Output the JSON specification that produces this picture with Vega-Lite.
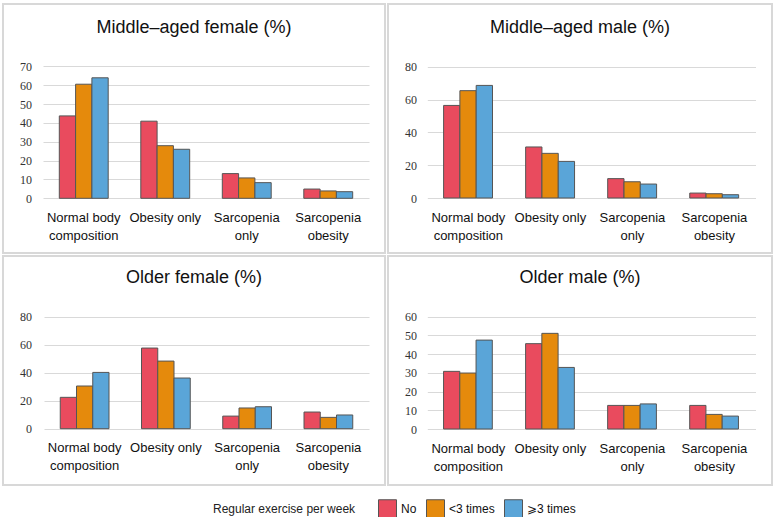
{
  "$schema": "https://vega.github.io/schema/vega-lite/v6.json",
  "background": "white",
  "padding": {"left": 2, "top": 3, "right": 0, "bottom": 0},
  "datasets": {
    "d": [
      {"panel": "MF", "cat": "Normal body composition", "grp": "No", "v": 43.7},
      {"panel": "MF", "cat": "Normal body composition", "grp": "<3 times", "v": 60.5},
      {"panel": "MF", "cat": "Normal body composition", "grp": "⩾3 times", "v": 63.9},
      {"panel": "MF", "cat": "Obesity only", "grp": "No", "v": 40.9},
      {"panel": "MF", "cat": "Obesity only", "grp": "<3 times", "v": 27.9},
      {"panel": "MF", "cat": "Obesity only", "grp": "⩾3 times", "v": 26.0},
      {"panel": "MF", "cat": "Sarcopenia only", "grp": "No", "v": 13.1},
      {"panel": "MF", "cat": "Sarcopenia only", "grp": "<3 times", "v": 10.8},
      {"panel": "MF", "cat": "Sarcopenia only", "grp": "⩾3 times", "v": 8.3},
      {"panel": "MF", "cat": "Sarcopenia obesity", "grp": "No", "v": 4.9},
      {"panel": "MF", "cat": "Sarcopenia obesity", "grp": "<3 times", "v": 3.9},
      {"panel": "MF", "cat": "Sarcopenia obesity", "grp": "⩾3 times", "v": 3.5},
      {"panel": "MM", "cat": "Normal body composition", "grp": "No", "v": 56.4},
      {"panel": "MM", "cat": "Normal body composition", "grp": "<3 times", "v": 65.4},
      {"panel": "MM", "cat": "Normal body composition", "grp": "⩾3 times", "v": 68.6},
      {"panel": "MM", "cat": "Obesity only", "grp": "No", "v": 31.1},
      {"panel": "MM", "cat": "Obesity only", "grp": "<3 times", "v": 27.2},
      {"panel": "MM", "cat": "Obesity only", "grp": "⩾3 times", "v": 22.3},
      {"panel": "MM", "cat": "Sarcopenia only", "grp": "No", "v": 11.8},
      {"panel": "MM", "cat": "Sarcopenia only", "grp": "<3 times", "v": 9.9},
      {"panel": "MM", "cat": "Sarcopenia only", "grp": "⩾3 times", "v": 8.5},
      {"panel": "MM", "cat": "Sarcopenia obesity", "grp": "No", "v": 3.0},
      {"panel": "MM", "cat": "Sarcopenia obesity", "grp": "<3 times", "v": 2.6},
      {"panel": "MM", "cat": "Sarcopenia obesity", "grp": "⩾3 times", "v": 2.0},
      {"panel": "OF", "cat": "Normal body composition", "grp": "No", "v": 22.4},
      {"panel": "OF", "cat": "Normal body composition", "grp": "<3 times", "v": 30.5},
      {"panel": "OF", "cat": "Normal body composition", "grp": "⩾3 times", "v": 40.2},
      {"panel": "OF", "cat": "Obesity only", "grp": "No", "v": 57.6},
      {"panel": "OF", "cat": "Obesity only", "grp": "<3 times", "v": 48.3},
      {"panel": "OF", "cat": "Obesity only", "grp": "⩾3 times", "v": 36.2},
      {"panel": "OF", "cat": "Sarcopenia only", "grp": "No", "v": 9.0},
      {"panel": "OF", "cat": "Sarcopenia only", "grp": "<3 times", "v": 14.8},
      {"panel": "OF", "cat": "Sarcopenia only", "grp": "⩾3 times", "v": 15.7},
      {"panel": "OF", "cat": "Sarcopenia obesity", "grp": "No", "v": 11.9},
      {"panel": "OF", "cat": "Sarcopenia obesity", "grp": "<3 times", "v": 8.1},
      {"panel": "OF", "cat": "Sarcopenia obesity", "grp": "⩾3 times", "v": 9.8},
      {"panel": "OM", "cat": "Normal body composition", "grp": "No", "v": 30.8},
      {"panel": "OM", "cat": "Normal body composition", "grp": "<3 times", "v": 29.9},
      {"panel": "OM", "cat": "Normal body composition", "grp": "⩾3 times", "v": 47.5},
      {"panel": "OM", "cat": "Obesity only", "grp": "No", "v": 45.6},
      {"panel": "OM", "cat": "Obesity only", "grp": "<3 times", "v": 51.1},
      {"panel": "OM", "cat": "Obesity only", "grp": "⩾3 times", "v": 32.9},
      {"panel": "OM", "cat": "Sarcopenia only", "grp": "No", "v": 12.6},
      {"panel": "OM", "cat": "Sarcopenia only", "grp": "<3 times", "v": 12.6},
      {"panel": "OM", "cat": "Sarcopenia only", "grp": "⩾3 times", "v": 13.4},
      {"panel": "OM", "cat": "Sarcopenia obesity", "grp": "No", "v": 12.6},
      {"panel": "OM", "cat": "Sarcopenia obesity", "grp": "<3 times", "v": 7.8},
      {"panel": "OM", "cat": "Sarcopenia obesity", "grp": "⩾3 times", "v": 6.9}
    ]
  },
  "spacing": 1,
  "vconcat": [
    {
      "spacing": 1,
      "hconcat": [
        {
          "width": 382, "height": 249,
          "title": {"text": "Middle–aged female (%)", "offset": -33},
          "data": {"name": "d"},
          "transform": [{"filter": "datum.panel == 'MF'"}],
          "mark": {"type": "bar", "stroke": "#555555", "strokeWidth": 1},
          "encoding": {
            "x": {"field": "cat", "type": "nominal", "sort": ["Normal body composition", "Obesity only", "Sarcopenia only", "Sarcopenia obesity"],
                  "scale": {"range": [40, 366], "paddingInner": 0, "paddingOuter": 0},
                  "axis": {"offset": -54.7}},
            "xOffset": {"field": "grp", "type": "nominal", "sort": ["No", "<3 times", "⩾3 times"], "scale": {"paddingInner": 0, "paddingOuter": 1.05}},
            "y": {"field": "v", "type": "quantitative", "scale": {"domain": [0, 70], "range": [194.3, 62.3], "nice": false},
                  "axis": {"values": [0, 10, 20, 30, 40, 50, 60, 70], "offset": -28.5}},
            "color": {"field": "grp", "type": "nominal", "sort": ["No", "<3 times", "⩾3 times"],
                      "scale": {"domain": ["No", "<3 times", "⩾3 times"], "range": ["#E94B5E", "#E58A0C", "#5AA5D8"]},
                      "legend": {"title": "Regular exercise per week", "orient": "none", "legendX": 210, "legendY": 495, "direction": "horizontal"}}
          }
        },
        {
          "width": 384, "height": 249,
          "title": {"text": "Middle–aged male (%)", "offset": -33},
          "data": {"name": "d"},
          "transform": [{"filter": "datum.panel == 'MM'"}],
          "mark": {"type": "bar", "stroke": "#555555", "strokeWidth": 1},
          "encoding": {
            "x": {"field": "cat", "type": "nominal", "sort": ["Normal body composition", "Obesity only", "Sarcopenia only", "Sarcopenia obesity"],
                  "scale": {"range": [39.3, 367.5], "paddingInner": 0, "paddingOuter": 0},
                  "axis": {"offset": -55}},
            "xOffset": {"field": "grp", "type": "nominal", "sort": ["No", "<3 times", "⩾3 times"], "scale": {"paddingInner": 0, "paddingOuter": 1.05}},
            "y": {"field": "v", "type": "quantitative", "scale": {"domain": [0, 80], "range": [194, 62.7], "nice": false},
                  "axis": {"values": [0, 20, 40, 60, 80], "offset": -28.5}},
            "color": {"field": "grp", "type": "nominal", "sort": ["No", "<3 times", "⩾3 times"],
                      "scale": {"domain": ["No", "<3 times", "⩾3 times"], "range": ["#E94B5E", "#E58A0C", "#5AA5D8"]},
                      "legend": {"title": "Regular exercise per week", "orient": "none", "legendX": 210, "legendY": 495, "direction": "horizontal"}}
          }
        }
      ]
    },
    {
      "spacing": 1,
      "hconcat": [
        {
          "width": 382, "height": 229,
          "title": {"text": "Older female (%)", "offset": -31},
          "data": {"name": "d"},
          "transform": [{"filter": "datum.panel == 'OF'"}],
          "mark": {"type": "bar", "stroke": "#555555", "strokeWidth": 1},
          "encoding": {
            "x": {"field": "cat", "type": "nominal", "sort": ["Normal body composition", "Obesity only", "Sarcopenia only", "Sarcopenia obesity"],
                  "scale": {"range": [41, 366], "paddingInner": 0, "paddingOuter": 0},
                  "axis": {"offset": -56.3}},
            "xOffset": {"field": "grp", "type": "nominal", "sort": ["No", "<3 times", "⩾3 times"], "scale": {"paddingInner": 0, "paddingOuter": 1.05}},
            "y": {"field": "v", "type": "quantitative", "scale": {"domain": [0, 80], "range": [172.7, 60.7], "nice": false},
                  "axis": {"values": [0, 20, 40, 60, 80], "offset": -28.5}},
            "color": {"field": "grp", "type": "nominal", "sort": ["No", "<3 times", "⩾3 times"],
                      "scale": {"domain": ["No", "<3 times", "⩾3 times"], "range": ["#E94B5E", "#E58A0C", "#5AA5D8"]},
                      "legend": {"title": "Regular exercise per week", "orient": "none", "legendX": 210, "legendY": 495, "direction": "horizontal"}}
          }
        },
        {
          "width": 384, "height": 229,
          "title": {"text": "Older male (%)", "offset": -31},
          "data": {"name": "d"},
          "transform": [{"filter": "datum.panel == 'OM'"}],
          "mark": {"type": "bar", "stroke": "#555555", "strokeWidth": 1},
          "encoding": {
            "x": {"field": "cat", "type": "nominal", "sort": ["Normal body composition", "Obesity only", "Sarcopenia only", "Sarcopenia obesity"],
                  "scale": {"range": [39.3, 367.5], "paddingInner": 0, "paddingOuter": 0},
                  "axis": {"offset": -56}},
            "xOffset": {"field": "grp", "type": "nominal", "sort": ["No", "<3 times", "⩾3 times"], "scale": {"paddingInner": 0, "paddingOuter": 1.05}},
            "y": {"field": "v", "type": "quantitative", "scale": {"domain": [0, 60], "range": [173, 60.7], "nice": false},
                  "axis": {"values": [0, 10, 20, 30, 40, 50, 60], "offset": -28.5}},
            "color": {"field": "grp", "type": "nominal", "sort": ["No", "<3 times", "⩾3 times"],
                      "scale": {"domain": ["No", "<3 times", "⩾3 times"], "range": ["#E94B5E", "#E58A0C", "#5AA5D8"]},
                      "legend": {"title": "Regular exercise per week", "orient": "none", "legendX": 210, "legendY": 495, "direction": "horizontal"}}
          }
        }
      ]
    }
  ],
  "resolve": {"scale": {"x": "independent", "y": "independent", "xOffset": "independent"}},
  "config": {
    "view": {"stroke": "#d8d8d8", "strokeWidth": 2},
    "title": {"font": "Liberation Sans", "fontSize": 18, "fontWeight": "normal", "color": "#111111", "anchor": "middle", "frame": "group", "baseline": "alphabetic"},
    "axisX": {"title": null, "labelAngle": 0, "domain": false, "ticks": false, "tickSize": 0, "grid": false,
              "labelPadding": 23, "labelBaseline": "alphabetic", "labelFont": "Liberation Sans", "labelFontSize": 13, "labelColor": "#111111", "labelLineHeight": 18,
              "labelExpr": "datum.value == 'Normal body composition' ? ['Normal body', 'composition'] : datum.value == 'Sarcopenia only' ? ['Sarcopenia', 'only'] : datum.value == 'Sarcopenia obesity' ? ['Sarcopenia', 'obesity'] : datum.value"},
    "axisY": {"title": null, "domain": false, "ticks": false, "tickSize": 0, "labelPadding": 0, "grid": true, "gridColor": "#d9d9d9", "gridWidth": 1,
              "labelFont": "Liberation Serif", "labelFontSize": 12, "labelColor": "#333333", "labelBaseline": "middle"},
    "legend": {"padding": 0, "titleOrient": "left", "titleFont": "Liberation Sans", "titleFontSize": 12, "titleFontWeight": "normal", "titleColor": "#222222", "titlePadding": 22,
               "titleBaseline": "middle", "labelFont": "Liberation Sans", "labelFontSize": 12, "labelColor": "#111111", "labelOffset": 4, "columnPadding": 7,
               "symbolType": "square", "symbolSize": 324, "symbolStrokeColor": "#555555", "symbolStrokeWidth": 1, "symbolOpacity": 1}
  }
}
